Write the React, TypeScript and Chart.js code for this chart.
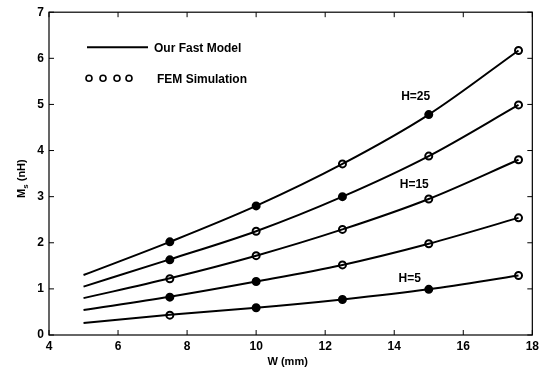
import React, { useEffect, useRef } from "react";
import { Chart, registerables } from "chart.js";

Chart.register(...registerables);

// ---- data ----
const modelW = [5, 7.5, 10, 12.5, 15, 17.6];
const femW = [7.5, 10, 12.5, 15, 17.6];
const seriesNames = ["H=5", "H=10", "H=15", "H=20", "H=25"];
const modelH5 = [0.26, 0.44, 0.59, 0.77, 0.99, 1.29];
const modelH10 = [0.54, 0.83, 1.16, 1.52, 1.98, 2.54];
const modelH15 = [0.8, 1.23, 1.72, 2.29, 2.95, 3.8];
const modelH20 = [1.05, 1.64, 2.25, 3.0, 3.88, 4.99];
const modelH25 = [1.3, 2.02, 2.8, 3.71, 4.78, 6.17];
const femH5 = [0.43, 0.59, 0.77, 0.99, 1.29];
const femH10 = [0.82, 1.16, 1.52, 1.98, 2.54];
const femH15 = [1.22, 1.72, 2.29, 2.95, 3.8];
const femH20 = [1.63, 2.25, 3.0, 3.88, 4.99];
const femH25 = [2.02, 2.8, 3.71, 4.78, 6.17];
const xTicks = [4, 6, 8, 10, 12, 14, 16, 18];
const yTicks = [0, 1, 2, 3, 4, 5, 6, 7];
const curveLabels = ["H=25", "H=15", "H=5"];
const curveLabelW = [14.62, 14.58, 14.45];
const curveLabelM = [5.17, 3.26, 1.22];
const legendLabels = ["Our Fast Model", "FEM Simulation"];
const xTitle = "W (mm)";

// marker fill look (scan appearance): 1 = filled, 0 = open
const fillH5 = [0, 1, 1, 1, 0];
const fillH10 = [1, 1, 0, 0, 0];
const fillH15 = [0, 0, 0, 0, 0];
const fillH20 = [1, 0, 1, 0, 0];
const fillH25 = [1, 1, 0, 1, 0];

const FONT = "'Liberation Sans', Arial, sans-serif";

export default function App() {
  const ref = useRef<HTMLCanvasElement | null>(null);

  useEffect(() => {
    document.body.style.margin = "0";
    const canvas = ref.current;
    if (!canvas) return;

    const models = [modelH5, modelH10, modelH15, modelH20, modelH25];
    const fems = [femH5, femH10, femH15, femH20, femH25];
    const fills = [fillH5, fillH10, fillH15, fillH20, fillH25];

    const datasets: any[] = [];
    models.forEach((vals, i) => {
      datasets.push({
        label: seriesNames[i] + " model",
        data: modelW.map((w, j) => ({ x: w, y: vals[j] })),
        showLine: true,
        borderColor: "#000",
        borderWidth: 2,
        pointRadius: 0,
        tension: 0.25,
        cubicInterpolationMode: "monotone",
      });
    });
    fems.forEach((vals, i) => {
      datasets.push({
        label: seriesNames[i] + " FEM",
        data: femW.map((w, j) => ({ x: w, y: vals[j] })),
        showLine: false,
        borderColor: "#000",
        borderWidth: 2,
        pointRadius: 3.5,
        pointBackgroundColor: fills[i].map((f) => (f ? "#000" : "#fff")),
        pointBorderColor: "#000",
        pointBorderWidth: 2,
      });
    });

    const decor = {
      id: "decor",
      afterDraw(chart: any) {
        const ctx = chart.ctx;
        const a = chart.chartArea;
        const xs = chart.scales.x;
        const ys = chart.scales.y;
        ctx.save();
        // frame
        ctx.strokeStyle = "#000";
        ctx.lineWidth = 1.2;
        ctx.strokeRect(a.left, a.top, a.right - a.left, a.bottom - a.top);
        // inward ticks
        const tl = 5;
        ctx.lineWidth = 1;
        ctx.beginPath();
        xTicks.forEach((t) => {
          const px = xs.getPixelForValue(t);
          ctx.moveTo(px, a.bottom);
          ctx.lineTo(px, a.bottom - tl);
          ctx.moveTo(px, a.top);
          ctx.lineTo(px, a.top + tl);
        });
        yTicks.forEach((t) => {
          const py = ys.getPixelForValue(t);
          ctx.moveTo(a.left, py);
          ctx.lineTo(a.left + tl, py);
          ctx.moveTo(a.right, py);
          ctx.lineTo(a.right - tl, py);
        });
        ctx.stroke();

        // legend
        const lx = a.left + 38;
        const ly1 = a.top + 35;
        const ly2 = a.top + 66;
        ctx.lineWidth = 2;
        ctx.beginPath();
        ctx.moveTo(lx, ly1);
        ctx.lineTo(lx + 61, ly1);
        ctx.stroke();
        ctx.fillStyle = "#000";
        ctx.font = `bold 12px ${FONT}`;
        ctx.textBaseline = "middle";
        ctx.textAlign = "left";
        ctx.fillText(legendLabels[0], lx + 67, ly1 + 1);
        ctx.lineWidth = 1.6;
        [2, 16, 30, 42].forEach((dx) => {
          ctx.beginPath();
          ctx.arc(lx + dx, ly2, 3, 0, Math.PI * 2);
          ctx.fillStyle = "#fff";
          ctx.fill();
          ctx.stroke();
        });
        ctx.fillStyle = "#000";
        ctx.fillText(legendLabels[1], lx + 70, ly2 + 1);

        // curve labels
        ctx.textAlign = "center";
        curveLabels.forEach((s, i) => {
          ctx.fillText(s, xs.getPixelForValue(curveLabelW[i]), ys.getPixelForValue(curveLabelM[i]));
        });

        // x title
        ctx.font = `bold 11px ${FONT}`;
        ctx.fillText(xTitle, (a.left + a.right) / 2 - 3, 362);

        // y title with subscript
        ctx.translate(22, (a.top + a.bottom) / 2 + 5);
        ctx.rotate(-Math.PI / 2);
        ctx.textAlign = "left";
        ctx.font = `bold 11px ${FONT}`;
        const p1 = "M";
        const p3 = " (nH)";
        ctx.font = `bold 8px ${FONT}`;
        const wS = ctx.measureText("s").width;
        ctx.font = `bold 11px ${FONT}`;
        const w1 = ctx.measureText(p1).width;
        const w3 = ctx.measureText(p3).width;
        let x0 = -(w1 + wS + w3) / 2;
        ctx.fillText(p1, x0, 0);
        ctx.font = `bold 8px ${FONT}`;
        ctx.fillText("s", x0 + w1, 4);
        ctx.font = `bold 11px ${FONT}`;
        ctx.fillText(p3, x0 + w1 + wS, 0);
        ctx.restore();
      },
    };

    const chart = new Chart(canvas, {
      type: "scatter",
      data: { datasets },
      options: {
        animation: false,
        responsive: false,
        maintainAspectRatio: false,
        layout: { padding: { top: 9, right: 8, left: 0, bottom: 0 } },
        plugins: { legend: { display: false }, tooltip: { enabled: false } },
        scales: {
          x: {
            type: "linear",
            min: 4,
            max: 18,
            afterBuildTicks: (s: any) => {
              s.ticks = xTicks.map((v) => ({ value: v }));
            },
            afterFit: (s: any) => {
              s.height = 40;
            },
            grid: { display: false, drawTicks: false },
            border: { display: false },
            ticks: {
              color: "#000",
              padding: 4,
              font: { family: FONT, size: 12, weight: "bold" },
              maxRotation: 0,
            },
          },
          y: {
            type: "linear",
            min: 0,
            max: 7,
            afterBuildTicks: (s: any) => {
              s.ticks = yTicks.map((v) => ({ value: v }));
            },
            afterFit: (s: any) => {
              s.width = 49;
            },
            grid: { display: false, drawTicks: false },
            border: { display: false },
            ticks: {
              color: "#000",
              padding: 5,
              font: { family: FONT, size: 12, weight: "bold" },
            },
          },
        },
      },
      plugins: [decor],
    } as any);

    return () => chart.destroy();
  }, []);

  return (
    <div style={{ width: 543, height: 375, background: "#fff" }}>
      <canvas ref={ref} width={543} height={375} style={{ display: "block" }} />
    </div>
  );
}
